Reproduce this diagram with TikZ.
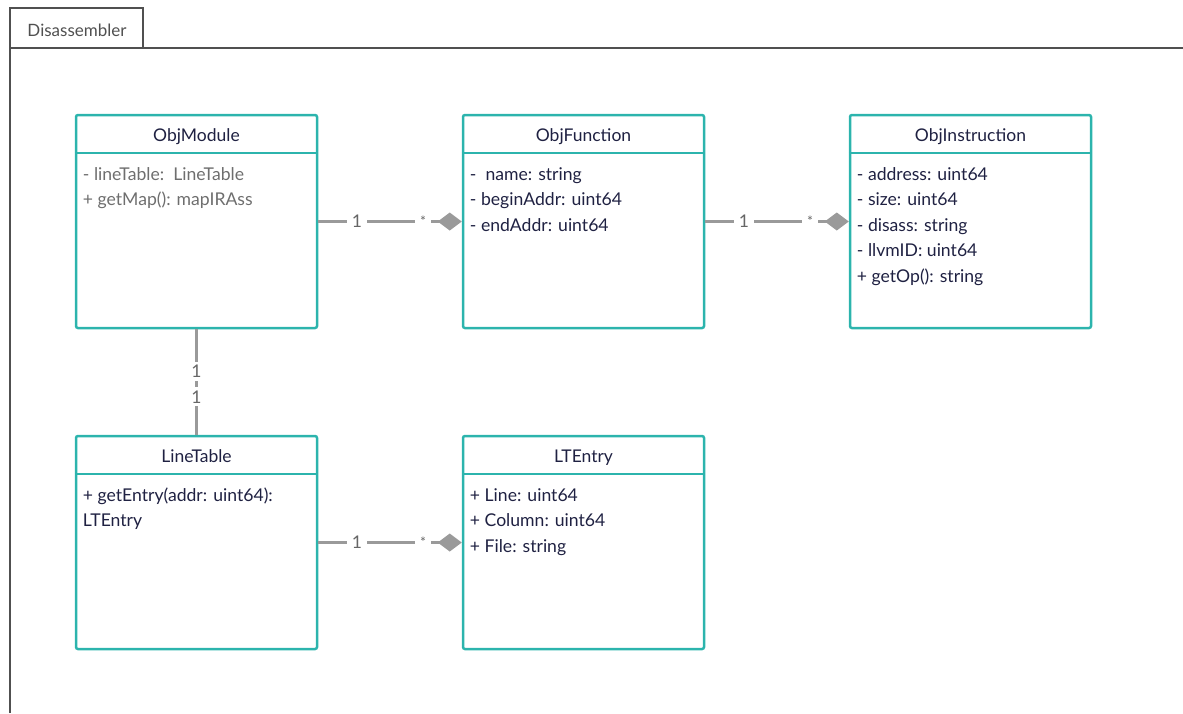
\documentclass[tikz,border=0pt]{standalone}
\usepackage{fontspec}
\setmainfont{Lato}
\usetikzlibrary{arrows.meta}
\definecolor{umlteal}{HTML}{2CB4AD}
\definecolor{umlnavy}{HTML}{1F2142}
\definecolor{membgray}{HTML}{6E6E6E}
\definecolor{linegray}{HTML}{9A9A9A}
\definecolor{multgray}{HTML}{666666}
\definecolor{framegray}{HTML}{505050}

\begin{document}
\begin{tikzpicture}[x=1pt,y=-1pt,
    frame/.style={draw=framegray, line width=2pt},
    classbox/.style={draw=umlteal, line width=2.5pt, rounded corners=2pt,
        minimum width=241pt, minimum height=213pt, inner sep=0pt},
    classname/.style={anchor=base, inner sep=0pt, text=umlnavy,
        font=\fontsize{17.5}{21}\selectfont},
    member/.style={anchor=base west, inner sep=0pt, text=umlnavy,
        font=\fontsize{17.6}{21}\selectfont},
    assoc/.style={draw=linegray, line width=2.5pt},
    mult/.style={fill=white, text=multgray, inner xsep=5pt, inner ysep=1pt,
        font=\fontsize{17.5}{21}\selectfont}]
    \useasboundingbox (0,0) rectangle (1183,713);

    % Package frame
    \draw[frame] (10,713) -- (10,8) -- (143,8) -- (143,48);
    \draw[frame] (10,48) -- (1183,48);
    \node[anchor=base, text=framegray, font=\fontsize{17}{20}\selectfont] (pkg) at (77,36) {Disassembler};

    % Classes
    \node[classbox] (objmod) at (196.5,221.5) {};
    \node[classbox] (objfun) at (583.5,221.5) {};
    \node[classbox] (objins) at (970.5,221.5) {};
    \node[classbox] (linetab) at (196.5,542.5) {};
    \node[classbox] (ltentry) at (583.5,542.5) {};

    % Header lines
    \foreach \c in {objmod,objfun,objins,linetab,ltentry}
        \draw[umlteal, line width=2pt] ([yshift=-39pt]\c.north west) -- ([yshift=-39pt]\c.north east);

    % Class names
    \node[classname] (objmodname) at ([yshift=-27.5pt]objmod.north) {ObjModule};
    \node[classname] (objfunname) at ([yshift=-27.5pt]objfun.north) {ObjFunction};
    \node[classname] (objinsname) at ([yshift=-27.5pt]objins.north) {ObjInstruction};
    \node[classname] (linetabname) at ([yshift=-27.5pt]linetab.north) {LineTable};
    \node[classname] (ltentryname) at ([yshift=-27.5pt]ltentry.north) {LTEntry};

    % Members
    \foreach \t [count=\i] in {- lineTable:\ \ LineTable, + getMap(): mapIRAss}
        \node[member, text=membgray] (objmod-\i) at ([xshift=8pt,yshift={-66.5pt-(\i-1)*25.5pt}]objmod.north west) {\t};
    \foreach \t [count=\i] in {-\ \ name: string, - beginAddr: uint64, - endAddr: uint64}
        \node[member] (objfun-\i) at ([xshift=8pt,yshift={-66.5pt-(\i-1)*25.5pt}]objfun.north west) {\t};
    \foreach \t [count=\i] in {- address: uint64, - size: uint64, - disass: string, - llvmID: uint64, + getOp(): string}
        \node[member] (objins-\i) at ([xshift=8pt,yshift={-66.5pt-(\i-1)*25.5pt}]objins.north west) {\t};
    \foreach \t [count=\i] in {+ getEntry(addr: uint64):, LTEntry}
        \node[member] (linetab-\i) at ([xshift=8pt,yshift={-66.5pt-(\i-1)*25.5pt}]linetab.north west) {\t};
    \foreach \t [count=\i] in {+ Line: uint64, + Column: uint64, + File: string}
        \node[member] (ltentry-\i) at ([xshift=8pt,yshift={-66.5pt-(\i-1)*25.5pt}]ltentry.north west) {\t};

    % Associations
    \draw[assoc, -{Diamond[length=24pt,width=18pt]}] (objmod.east) -- (objfun.west)
        node[mult, pos=0.27] {1} node[mult, pos=0.73, font=\fontsize{14}{16}\selectfont] {*};
    \draw[assoc, -{Diamond[length=24pt,width=18pt]}] (objfun.east) -- (objins.west)
        node[mult, pos=0.27] {1} node[mult, pos=0.73, font=\fontsize{14}{16}\selectfont] {*};
    \draw[assoc, -{Diamond[length=24pt,width=18pt]}] (linetab.east) -- (ltentry.west)
        node[mult, pos=0.27] {1} node[mult, pos=0.73, font=\fontsize{14}{16}\selectfont] {*};
    \draw[assoc] (objmod.south) -- (linetab.north)
        node[mult, pos=0.40, inner ysep=3pt] (up1) {1} node[mult, pos=0.64, inner ysep=3pt] (lo1) {1};
\end{tikzpicture}
\end{document}
